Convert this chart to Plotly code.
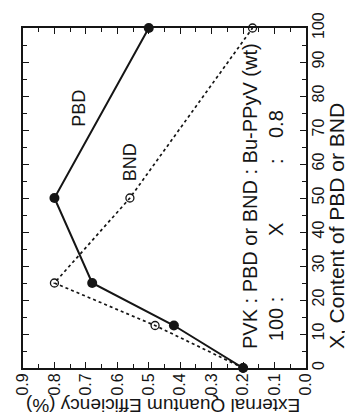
import plotly.graph_objects as go

# Data (x = content of PBD or BND, wt; values = external quantum efficiency, %)
content = [0, 12.5, 25, 50, 100]
eqe_pbd = [0.20, 0.42, 0.68, 0.80, 0.50]
eqe_bnd = [0.20, 0.48, 0.80, 0.56, 0.17]

eqe_ticks = [0.0, 0.1, 0.2, 0.3, 0.4, 0.5, 0.6, 0.7, 0.8, 0.9]
content_ticks = [0, 10, 20, 30, 40, 50, 60, 70, 80, 90, 100]

FONT = "Liberation Sans, Arial, Helvetica, sans-serif"
INK = "#151515"

fig = go.Figure()

# The chart is shown rotated 90 degrees counter-clockwise:
# EQE runs along the bottom (increasing to the left), content runs up the right side.
fig.add_trace(go.Scatter(
    x=eqe_bnd, y=content, mode="lines+markers", name="BND",
    line=dict(color=INK, width=1.7, dash="dot"),
    marker=dict(symbol="circle-open", size=8, color=INK, line=dict(width=1.3)),
    cliponaxis=False, showlegend=False))
fig.add_trace(go.Scatter(
    x=eqe_pbd, y=content, mode="lines+markers", name="PBD",
    line=dict(color=INK, width=2),
    marker=dict(symbol="circle", size=10, color=INK),
    cliponaxis=False, showlegend=False))

fig.update_xaxes(
    range=[0.9, 0.0], tickvals=eqe_ticks, ticktext=[f"{v:.1f}" for v in eqe_ticks],
    ticks="inside", ticklen=6, tickwidth=1.3, tickcolor=INK,
    minor=dict(dtick=0.05, ticks="inside", ticklen=4, tickcolor=INK, tickwidth=1.1),
    tickangle=-90, showline=True, linecolor=INK, linewidth=1.8, mirror="allticks",
    showgrid=False, zeroline=False, automargin=False, ticklabelstandoff=-3,
    tickfont=dict(family=FONT, size=16, color=INK))
fig.update_yaxes(
    range=[0, 100], tickvals=content_ticks, side="right",
    ticks="inside", ticklen=6, tickwidth=1.3, tickcolor=INK,
    minor=dict(dtick=5, ticks="inside", ticklen=4, tickcolor=INK, tickwidth=1.1),
    tickangle=-90, showline=True, linecolor=INK, linewidth=1.8, mirror="allticks",
    showgrid=False, zeroline=False, automargin=False, ticklabelstandoff=-3,
    tickfont=dict(family=FONT, size=16, color=INK))

ann = []
# axis titles
ann.append(dict(text="External Quantum Efficiency (%)", xref="paper", yref="paper",
                x=0.495, y=-0.147, textangle=180, showarrow=False,
                font=dict(family=FONT, size=19, color=INK)))
ann.append(dict(text="X, Content of PBD or BND", xref="paper", yref="paper",
                x=1.158, y=0.418, textangle=-90, showarrow=False,
                font=dict(family=FONT, size=21, color=INK)))
# series labels
ann.append(dict(text="PBD", x=0.722, y=76.5, xref="x", yref="y", textangle=-90,
                showarrow=False, font=dict(family=FONT, size=18, color=INK)))
ann.append(dict(text="BND", x=0.56, y=60.5, xref="x", yref="y", textangle=-90,
                showarrow=False, font=dict(family=FONT, size=18, color=INK)))
# composition text
ann.append(dict(text="PVK : PBD or BND : Bu-PPyV (wt)", x=0.178, y=5, xref="x", yref="y",
                textangle=-90, yanchor="bottom", showarrow=False,
                font=dict(family=FONT, size=20, color=INK)))
for txt, yy in [("100 :", 14.4), ("X", 40.6), (":", 60.9), ("0.8", 71.8)]:
    ann.append(dict(text=txt, x=0.095, y=yy, xref="x", yref="y", textangle=-90,
                    showarrow=False, font=dict(family=FONT, size=20, color=INK)))

fig.update_layout(
    width=353, height=419,
    margin=dict(l=15, r=55, t=20, b=59),
    paper_bgcolor="white", plot_bgcolor="white",
    annotations=ann)

fig.write_html("out.html")
